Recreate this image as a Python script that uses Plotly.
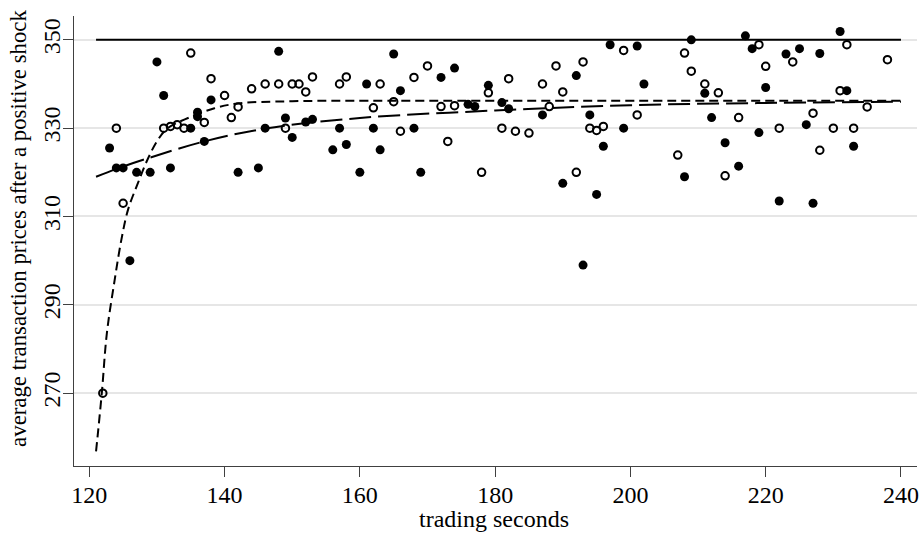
import plotly.graph_objects as go

# Filled (solid) markers
filled_x = [123, 124, 125, 126, 127, 129, 130, 131, 132, 135, 136, 136, 137, 138,
            142, 145, 146, 148, 149, 150, 152, 153, 156, 157, 158, 160, 161, 162,
            163, 165, 166, 168, 169, 172, 174, 176, 177, 179, 181, 182, 187, 190,
            192, 193, 194, 195, 196, 197, 199, 201, 202, 208, 209, 211, 212, 214,
            216, 217, 218, 219, 220, 222, 223, 225, 226, 227, 228, 231, 232, 233]
filled_y = [325.5, 321, 321, 300, 320, 320, 345, 337.4, 321, 330, 333.6, 332.6, 327, 336.4,
            320, 321, 330, 347.4, 332.3, 327.9, 331.4, 332.0, 325.1, 330, 326.3, 320, 340, 330,
            325.1, 346.8, 338.5, 330, 320, 341.5, 343.6, 335.4, 334.9, 339.7, 335.8, 334.4, 333, 317.5,
            341.9, 299, 333, 315, 325.9, 348.9, 330, 348.6, 340, 319, 350, 337.9, 332.4, 326.7,
            321.4, 350.9, 348, 329, 339.2, 313.5, 346.8, 348, 330.8, 313, 346.9, 351.9, 338.5, 325.9]

# Hollow markers
hollow_x = [122, 124, 125, 131, 132, 133, 134, 135, 137, 138, 140, 141, 142, 144,
            146, 148, 149, 150, 151, 152, 153, 157, 158, 162, 163, 165, 166, 168,
            170, 172, 173, 174, 178, 179, 181, 182, 183, 185, 187, 188, 189, 190,
            192, 193, 194, 195, 196, 199, 201, 207, 208, 209, 211, 213, 214, 216,
            219, 220, 222, 224, 227, 228, 230, 231, 232, 233, 235, 238]
hollow_y = [270, 330, 313, 330, 330.4, 330.8, 330, 347, 331.3, 341.2, 337.4, 332.4, 334.8, 338.9,
            340, 340, 330, 340, 340, 338.2, 341.6, 340, 341.6, 334.6, 340, 336, 329.3, 341.5,
            344.1, 334.9, 327, 335.1, 320, 338, 330, 341.2, 329.3, 328.9, 340, 334.9, 344.1, 338.2,
            320, 345, 330, 329.5, 330.4, 347.6, 333, 323.9, 347, 342.9, 340, 338, 319.2, 332.4,
            348.9, 344, 330, 345, 333.4, 325, 330, 338.5, 348.9, 330, 334.8, 345.5]

# Fitted curve (short dashes)
fit_short_x = [121.0, 121.85, 122.6, 123.76, 124.74, 125.72, 127.2, 128.7, 130.16,
               131.6, 134.6, 138.5, 142, 150, 170, 240]
fit_short_y = [256.8, 270, 283.6, 295.7, 304.7, 311.5, 317.6, 323.2, 327.4,
               330.0, 332.3, 334.5, 335.6, 336.1, 336.2, 336.2]

# Fitted curve (long dashes)
fit_long_x = [121, 125, 128.7, 137, 146, 160, 180, 200, 220, 240]
fit_long_y = [319.0, 321.3, 323.2, 327.0, 329.9, 332.3, 334.0, 335.2, 335.7, 336.0]

# Reference level line
ref_x = [121, 240]
ref_y = [350, 350]

x_ticks = [120, 140, 160, 180, 200, 220, 240]
y_ticks = [270, 290, 310, 330, 350]

x_title = "trading seconds"
y_title = "average transaction prices after a positive shock"

FONT = "Liberation Serif"

fig = go.Figure()
fig.add_trace(go.Scatter(x=ref_x, y=ref_y, mode="lines",
                         line=dict(color="black", width=2), showlegend=False))
fig.add_trace(go.Scatter(x=fit_short_x, y=fit_short_y, mode="lines",
                         line=dict(color="black", width=2, dash="9px,5px", shape="spline"),
                         showlegend=False))
fig.add_trace(go.Scatter(x=fit_long_x, y=fit_long_y, mode="lines",
                         line=dict(color="black", width=2, dash="22px,7px", shape="spline"),
                         showlegend=False))
fig.add_trace(go.Scatter(x=filled_x, y=filled_y, mode="markers",
                         marker=dict(symbol="circle", size=9, color="black",
                                     line=dict(width=0)),
                         showlegend=False))
fig.add_trace(go.Scatter(x=hollow_x, y=hollow_y, mode="markers",
                         marker=dict(symbol="circle-open", size=7.5, color="black",
                                     line=dict(width=2, color="black")),
                         showlegend=False))

fig.update_layout(
    width=922, height=533,
    margin=dict(l=74, r=5, t=16, b=67, autoexpand=False),
    paper_bgcolor="white", plot_bgcolor="white",
    font=dict(family=FONT, size=24, color="black"),
    showlegend=False,
)
fig.update_xaxes(
    range=[117.74, 242.37], tickvals=x_ticks, ticktext=[str(v) for v in x_ticks],
    showgrid=False, zeroline=False, automargin=False,
    showline=True, linecolor="#404040", linewidth=1.3,
    ticks="outside", ticklen=10, tickcolor="#404040", tickwidth=1.3,
    ticklabelstandoff=-3,
    tickfont=dict(family=FONT, size=24, color="black"),
)
fig.update_yaxes(
    range=[253.5, 355.4], tickvals=y_ticks, ticktext=[str(v) for v in y_ticks],
    tickangle=-90, automargin=False,
    showgrid=True, gridcolor="#e6e6e6", gridwidth=2, zeroline=False,
    showline=True, linecolor="#404040", linewidth=1.3,
    ticks="outside", ticklen=10, tickcolor="#404040", tickwidth=1.3,
    ticklabelstandoff=-7,
    tickfont=dict(family=FONT, size=24, color="black"),
)

fig.add_annotation(text=x_title, xref="paper", yref="paper", x=0.498, y=-0.118,
                   xanchor="center", yanchor="middle", showarrow=False,
                   font=dict(family=FONT, size=24, color="black"))
fig.add_annotation(text=y_title, xref="paper", yref="paper", x=-0.0652, y=0.527,
                   xanchor="center", yanchor="middle", textangle=-90, showarrow=False,
                   font=dict(family=FONT, size=22.8, color="black"))

# Remove the default page margin so the figure sits at the window's top-left corner
fig.write_html("out.html",
               config={"displayModeBar": False},
               post_script="document.body.style.margin='0';"
                           "document.documentElement.style.overflow='hidden';")
